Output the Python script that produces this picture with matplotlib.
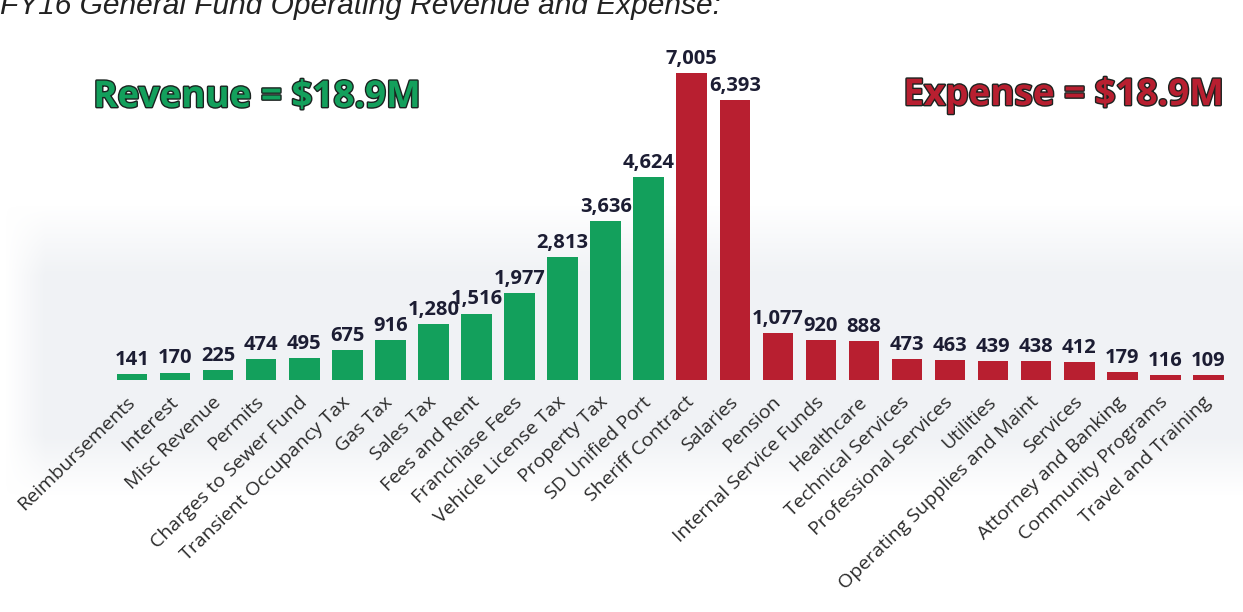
import matplotlib.pyplot as plt
import matplotlib.patheffects as pe
import numpy as np

plt.rcParams['font.family'] = ['Open Sans', 'DejaVu Sans']

# General fund revenue and expense, in $ thousands
revenue_items = ['Reimbursements', 'Interest', 'Misc Revenue', 'Permits',
                 'Charges to Sewer Fund', 'Transient Occupancy Tax', 'Gas Tax',
                 'Sales Tax', 'Fees and Rent', 'Franchiase Fees',
                 'Vehicle License Tax', 'Property Tax', 'SD Unified Port']
revenue_values = [141, 170, 225, 474, 495, 675, 916, 1280, 1516, 1977, 2813, 3636, 4624]

expense_items = ['Sheriff Contract', 'Salaries', 'Pension', 'Internal Service Funds',
                 'Healthcare', 'Technical Services', 'Professional Services',
                 'Utilities', 'Operating Supplies and Maint', 'Services',
                 'Attorney and Banking', 'Community Programs', 'Travel and Training']
expense_values = [7005, 6393, 1077, 920, 888, 473, 463, 439, 438, 412, 179, 116, 109]

GREEN = '#13a05c'
RED = '#b81f30'
DARK = '#1c1d33'

fig = plt.figure(figsize=(12.43, 6.12), dpi=100)

# pale grey band behind the bars
bg = fig.add_axes([0, 0, 1, 1], zorder=0)
bg.axis('off')
H, W = 612, 1243
ys = np.arange(H)[:, None]
xs = np.arange(W)[None, :]
vert = np.clip((ys - 205) / 70, 0, 1) * np.clip((495 - ys) / 60, 0, 1)
horiz = np.clip((xs - 5) / 40, 0, 1)
img = np.zeros((H, W, 4))
img[..., 0] = 0.945
img[..., 1] = 0.952
img[..., 2] = 0.962
img[..., 3] = vert * horiz
bg.imshow(img, extent=[0, 1, 0, 1], aspect='auto', interpolation='bilinear')
bg.set_xlim(0, 1)
bg.set_ylim(0, 1)

names = revenue_items + expense_items
values = revenue_values + expense_values
colors = [GREEN] * len(revenue_values) + [RED] * len(expense_values)
x = np.arange(len(names))

ax = fig.add_axes([0.0889, 1 - 380 / 612, 0.9006, (380 - 64.6) / 612], zorder=1)
ax.patch.set_alpha(0)
ax.bar(x, values, width=0.71, color=colors, linewidth=0)

for xi, v in zip(x, values):
    ax.annotate(f'{v:,}', (xi, v), xytext=(0, 3), textcoords='offset points',
                ha='center', va='bottom', fontsize=14.5, fontweight='bold', color=DARK)

ax.set_xlim(-0.5, len(names) - 0.5)
ax.set_ylim(0, 7200)
ax.set_yticks([])
ax.set_xticks(x, names, rotation=44, ha='right', va='center',
              rotation_mode='anchor', fontsize=14, color='#2b2b2b')
ax.tick_params(axis='x', length=0, pad=14)
for side in ax.spines.values():
    side.set_visible(False)

outline = [pe.Stroke(linewidth=2, foreground='#1b2320'), pe.Normal()]
fig.text(0.075, 1 - 97 / 612, 'Revenue = $18.9M', ha='left', va='center',
         fontsize=26.5, fontweight='bold', color=GREEN, path_effects=outline)
fig.text(0.984, 1 - 95 / 612, 'Expense = $18.9M', ha='right', va='center',
         fontsize=26.5, fontweight='bold', color=RED, path_effects=outline)

fig.text(0.0, 1 - 14 / 612, 'FY16 General Fund Operating Revenue and Expense:',
         ha='left', va='baseline', fontsize=21.5, style='italic',
         family=['Liberation Sans', 'DejaVu Sans'], color='#222222')

fig.savefig('out.png', dpi=100)
